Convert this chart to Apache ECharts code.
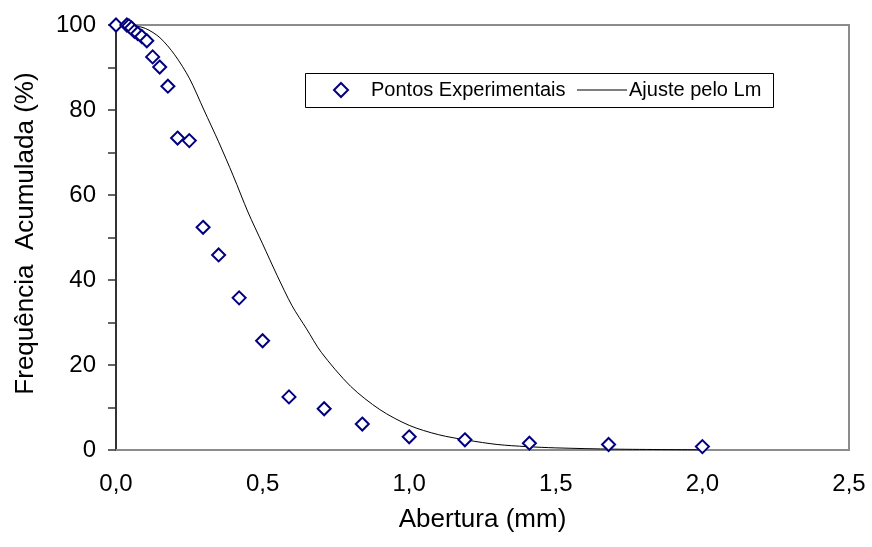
<!DOCTYPE html>
<html>
<head>
<meta charset="utf-8">
<script src="https://cdn.jsdelivr.net/npm/echarts@6/dist/echarts.min.js"></script>
<style>html,body{margin:0;padding:0;background:#fff}#c{width:872px;height:547px}</style>
</head>
<body>
<div id="c"></div>
<script>
// Experimental points: sieve opening (mm) and cumulative frequency (%)
var expX = [0, 0.037, 0.044, 0.053, 0.063, 0.074, 0.088, 0.105, 0.125, 0.149, 0.177, 0.21, 0.25, 0.297, 0.35, 0.42, 0.50, 0.59, 0.71, 0.84, 1.00, 1.19, 1.41, 1.68, 2.00];
var expY = [100, 100, 99.8, 99.3, 98.5, 98.0, 97.3, 96.3, 92.5, 90.1, 85.6, 73.4, 72.8, 52.4, 45.9, 35.8, 25.7, 12.5, 9.7, 6.1, 3.1, 2.4, 1.6, 1.3, 0.8];
// Fitted curve ("Ajuste pelo Lm")
var fitX = [0, 0.05, 0.1, 0.15, 0.2, 0.25, 0.3, 0.35, 0.4, 0.45, 0.5, 0.55, 0.6, 0.65, 0.7, 0.8, 0.9, 1.0, 1.1, 1.2, 1.3, 1.4, 1.5, 1.7, 2.0];
var fitY = [100, 99.9, 99.2, 97, 93, 87.5, 80, 72.5, 64.5, 56, 48.5, 41, 34, 28.5, 23, 15, 9.5, 5.8, 3.6, 2.3, 1.3, 0.8, 0.5, 0.2, 0.05];
var xTicks = [0, 0.5, 1.0, 1.5, 2.0, 2.5];
var yTicks = [0, 20, 40, 60, 80, 100];

var FONT = "'Liberation Sans', Arial, sans-serif";
function pairs(xs, ys) { return xs.map(function (x, i) { return [x, ys[i]]; }); }

var chart = echarts.init(document.getElementById('c'), null, { renderer: 'canvas' });
chart.setOption({
  animation: false,
  backgroundColor: '#ffffff',
  textStyle: { fontFamily: FONT },
  grid: { left: 116, right: 23, top: 25, bottom: 97, show: true, borderColor: '#8c8c8c', borderWidth: 2,
          backgroundColor: 'transparent', containLabel: false, outerBoundsMode: 'none' },
  graphic: [{
    type: 'rect', left: 305, top: 73, z: 1,
    shape: { width: 468, height: 34 },
    style: { fill: '#fff', stroke: '#000', lineWidth: 1 }
  }],
  legend: [
    {
      left: 333, top: 80, padding: 0, z: 5,
      itemWidth: 14, itemHeight: 14,
      textStyle: { fontSize: 20, color: '#000', fontFamily: FONT, padding: [0, 0, 0, 18] },
      data: [{ name: 'Pontos Experimentais', icon: 'diamond' }]
    },
    {
      left: 577, top: 80, padding: 0, z: 5,
      itemWidth: 50, itemHeight: 1,
      textStyle: { fontSize: 20, color: '#000', fontFamily: FONT, padding: [0, 0, 0, -3] },
      data: [{ name: 'Ajuste pelo Lm', icon: 'rect', itemStyle: { color: '#000' } }]
    }
  ],
  xAxis: {
    type: 'value', min: xTicks[0], max: xTicks[xTicks.length - 1], interval: 0.5,
    name: 'Abertura (mm)', nameLocation: 'middle', nameGap: 57,
    nameTextStyle: { fontSize: 26, color: '#000', fontFamily: FONT },
    axisLine: { show: true, lineStyle: { color: '#8c8c8c', width: 2 } },
    axisTick: { show: false },
    splitLine: { show: false },
    axisLabel: { fontSize: 24, color: '#000', margin: 22, fontFamily: FONT,
      formatter: function (v) { return v.toFixed(1).replace('.', ','); } }
  },
  yAxis: {
    type: 'value', min: yTicks[0], max: yTicks[yTicks.length - 1], interval: 20,
    name: 'Frequência  Acumulada (%)', nameLocation: 'middle', nameGap: 77, nameRotate: 90,
    nameTextStyle: { fontSize: 26, color: '#000', fontFamily: FONT, padding: [0, 0, 0, 8] },
    axisLine: { show: true, lineStyle: { color: '#333', width: 2 } },
    axisTick: { show: true, length: 8, lineStyle: { color: '#333', width: 1.5 } },
    minorTick: { show: true, splitNumber: 2, length: 8, lineStyle: { color: '#333', width: 1.5 } },
    splitLine: { show: false },
    axisLabel: { fontSize: 24, color: '#000', margin: 20, fontFamily: FONT }
  },
  series: [
    {
      name: 'Ajuste pelo Lm', type: 'line', data: pairs(fitX, fitY),
      smooth: 0.3, symbol: 'none', showSymbol: false, clip: false,
      lineStyle: { color: '#000', width: 1 }, itemStyle: { color: '#000' }, z: 2
    },
    {
      name: 'Pontos Experimentais', type: 'scatter', data: pairs(expX, expY),
      symbol: 'diamond', symbolSize: 13, clip: false,
      itemStyle: { color: '#ffffff', borderColor: '#000080', borderWidth: 2, opacity: 1 }, z: 3
    }
  ]
});
</script>
</body>
</html>
